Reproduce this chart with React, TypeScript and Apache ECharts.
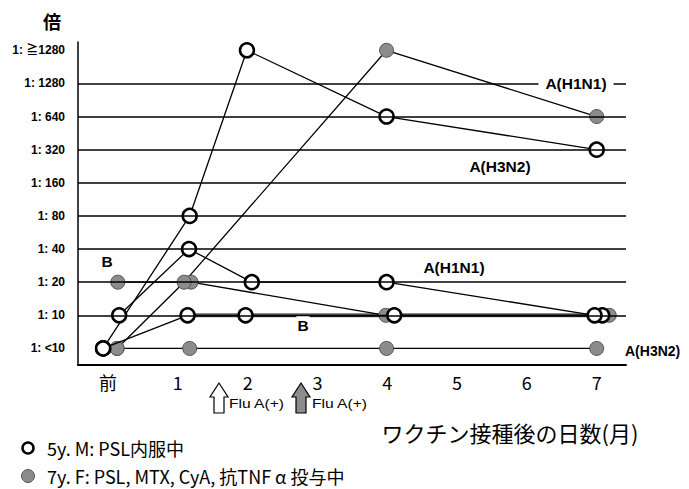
import React, { useEffect, useRef } from "react";
import * as echarts from "echarts";

// x: months after vaccination (0 = 前), y: titre level index
const xLabels = ["前", "1", "2", "3", "4", "5", "6", "7"];
const xTickValues = [0, 1, 2, 3, 4, 5, 6, 7];
const yLabels = ["1: <10", "1: 10", "1: 20", "1: 40", "1: 80", "1: 160", "1: 320", "1: 640", "1: 1280", "1: ≧1280"];
const yTickValues = [0, 1, 2, 3, 4, 5, 6, 7, 8, 9];
const gridLevels = [1, 2, 3, 4, 5, 6, 7, 8];

// 5y. M (open circles)
const openH1N1: [number, number][] = [[0.16, 1], [1.16, 3], [2.06, 2], [3.99, 2], [6.97, 1]];
const openH3N2: [number, number][] = [[-0.07, 0], [1.17, 4], [1.99, 9], [3.99, 7], [7.0, 6]];
const openB: [number, number][] = [[-0.07, 0], [1.14, 1], [1.97, 1], [4.1, 1], [7.08, 1]];

// 7y. F (grey circles)
const greyH1N1: [number, number][] = [[0.13, 0], [1.09, 2], [3.99, 9], [7.0, 7]];
const greyH3N2: [number, number][] = [[0.13, 0], [1.17, 0], [3.99, 0], [7.0, 0]];
const greyB: [number, number][] = [[0.14, 2], [1.19, 2], [3.98, 1], [7.18, 1]];

const LATIN = "'Liberation Sans', Arial, 'Noto Sans CJK JP', sans-serif";
const CJK = "'Noto Sans CJK JP', 'Liberation Sans', sans-serif";

export default function App() {
  const ref = useRef<HTMLDivElement>(null);
  useEffect(() => {
    if (!ref.current) return;
    const chart = echarts.init(ref.current, null, { renderer: "svg" });
    const openItem = { color: "#ffffff", borderColor: "#000", borderWidth: 2.5 };
    const greyItem = { color: "#8c8c8c", borderColor: "#555", borderWidth: 1 };
    const lineStyle = { color: "#000", width: 1.3 };
    const mk = (name: string, data: [number, number][], item: any, z: number) => ({
      type: "line",
      name,
      data,
      symbol: "circle",
      symbolSize: 14,
      itemStyle: item,
      lineStyle,
      z,
      silent: true,
    });
    const label = (text: string, x: number, y: number, align: string = "center", pad: number[] = [0, 0, 0, 0], size: number = 15.5) => ({
      type: "text",
      x,
      y,
      z: 20,
      style: {
        text,
        fontFamily: LATIN,
        fontWeight: "bold",
        fontSize: size,
        fill: "#000",
        align,
        verticalAlign: "middle",
        backgroundColor: "#fff",
        padding: pad,
      },
    });
    const arrow = (cx: number, fill: string) => ({
      type: "polygon",
      z: 20,
      shape: {
        points: [
          [cx, 383], [cx - 9, 397], [cx - 5, 397], [cx - 5, 413],
          [cx + 5, 413], [cx + 5, 397], [cx + 9, 397],
        ],
      },
      style: { fill, stroke: "#000", lineWidth: 1.2 },
    });
    chart.setOption({
      animation: false,
      grid: { left: 78, right: 63, top: 42, bottom: 124 },
      xAxis: {
        type: "value",
        min: -0.43,
        max: 7.42,
        axisLine: { show: true, onZero: false, lineStyle: { color: "#000", width: 2 } },
        axisTick: { show: false },
        splitLine: { show: false },
        axisLabel: {
          customValues: xTickValues,
          formatter: (v: number) => xLabels[Math.round(v)] ?? "",
          color: "#000",
          fontSize: 18,
          fontFamily: CJK,
          margin: 8,
        },
      },
      yAxis: {
        type: "value",
        min: -0.5,
        max: 9.25,
        axisLine: { show: true, onZero: false, lineStyle: { color: "#000", width: 1.5 } },
        axisTick: { show: false },
        splitLine: { show: false },
        axisLabel: {
          customValues: yTickValues,
          formatter: (v: number) => yLabels[Math.round(v)] ?? "",
          color: "#000",
          fontSize: 12,
          fontWeight: "bold",
          fontFamily: LATIN,
          margin: 13,
        },
      },
      series: [
        {
          type: "line",
          data: [],
          silent: true,
          z: 1,
          markLine: {
            silent: true,
            symbol: "none",
            label: { show: false },
            lineStyle: { color: "#000", width: 1.5, type: "solid" },
            data: gridLevels.map((v) => ({ yAxis: v })),
          },
        },
        {
          type: "line",
          data: openB.slice(1),
          symbol: "none",
          lineStyle: { color: "#666", width: 4 },
          z: 2,
          silent: true,
        },
        mk("greyH3N2", greyH3N2, greyItem, 3),
        mk("greyB", greyB, greyItem, 3),
        mk("greyH1N1", greyH1N1, greyItem, 3),
        mk("openB", openB, openItem, 4),
        mk("openH1N1", openH1N1, openItem, 4),
        mk("openH3N2", openH3N2, openItem, 4),
      ],
      graphic: [
        { type: "text", x: 52, y: 21, style: { text: "倍", fontFamily: CJK, fontWeight: "bold", fontSize: 18, fill: "#000", align: "center", verticalAlign: "middle" } },
        label("A(H1N1)", 576, 83, "center", [6, 7, 6, 7]),
        label("A(H3N2)", 500, 166, "center", [10, 7, 2, 7]),
        label("A(H1N1)", 454, 267),
        label("A(H3N2)", 625, 351, "left", [0, 0, 0, 0], 14),
        label("B", 107, 261),
        label("B", 303, 325, "center", [1, 1, 1, 1]),
        arrow(219, "#fff"),
        arrow(301, "#8c8c8c"),
        { type: "text", x: 229, y: 403, z: 20, scaleX: 1.2, style: { text: "Flu A(+)", fontFamily: LATIN, fontSize: 13, fill: "#000", verticalAlign: "middle" } },
        { type: "text", x: 312, y: 403, z: 20, scaleX: 1.2, style: { text: "Flu A(+)", fontFamily: LATIN, fontSize: 13, fill: "#000", verticalAlign: "middle" } },
        { type: "text", x: 510, y: 432, z: 20, style: { text: "ワクチン接種後の日数(月)", fontFamily: CJK, fontSize: 22, fill: "#000", align: "center", verticalAlign: "middle" } },
        { type: "circle", z: 20, shape: { cx: 28, cy: 448, r: 5.5 }, style: { fill: "#fff", stroke: "#000", lineWidth: 2.5 } },
        { type: "text", x: 47, y: 448, z: 20, style: { text: "5y. M: PSL内服中", fontFamily: CJK, fontSize: 18, fill: "#000", verticalAlign: "middle" } },
        { type: "circle", z: 20, shape: { cx: 28, cy: 476, r: 6.5 }, style: { fill: "#8c8c8c", stroke: "#555", lineWidth: 1 } },
        { type: "text", x: 47, y: 476, z: 20, style: { text: "7y. F: PSL, MTX, CyA, 抗TNF α 投与中", fontFamily: CJK, fontSize: 18, fill: "#000", verticalAlign: "middle" } },
      ],
    });
    return () => chart.dispose();
  }, []);
  return <div ref={ref} style={{ width: 689, height: 489, position: "absolute", left: 0, top: 0 }} />;
}
